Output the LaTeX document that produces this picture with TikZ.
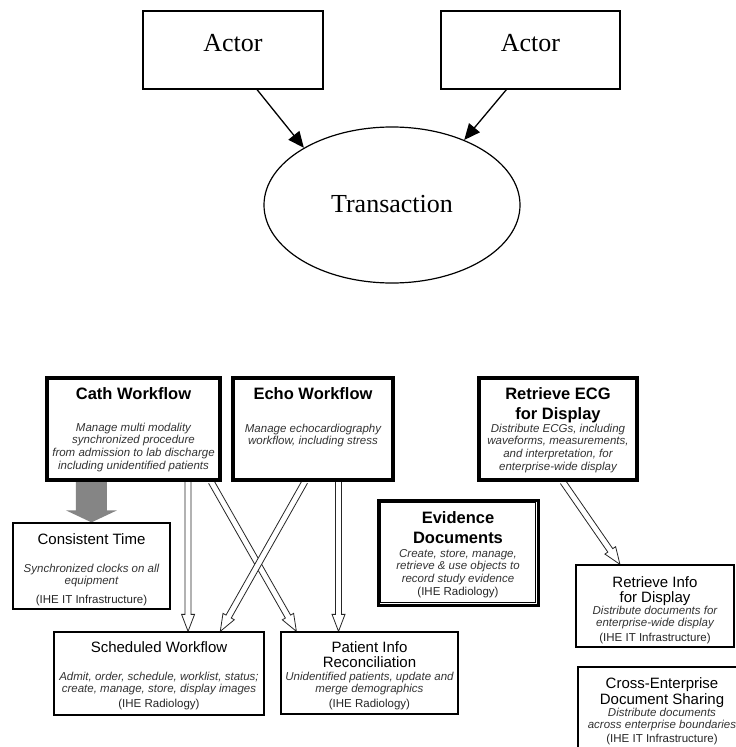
\documentclass[tikz,border=0pt]{standalone}
\usepackage{fontspec}
\setmainfont{Liberation Serif}
\newfontfamily\arialfont{Liberation Sans}
\usetikzlibrary{calc,arrows.meta,shapes.geometric,backgrounds}

% hollow double-lined arrow from coordinate #1 to coordinate #2
\newcommand\hollowarrow[2]{%
  \coordinate (hbase) at ($(#2)!17pt!(#1)$);
  \filldraw[hollowlink]
    ($(#1)!3pt!90:(#2)$) -- ($(hbase)!3pt!90:(#2)$) -- ($(hbase)!6.5pt!90:(#2)$)
    -- (#2) -- ($(hbase)!6.5pt!-90:(#2)$) -- ($(hbase)!3pt!-90:(#2)$)
    -- ($(#1)!3pt!-90:(#2)$);
}

\begin{document}
\begin{tikzpicture}[x=1pt,y=-1pt,
  actorbox/.style={draw, line width=1.4pt, inner sep=0pt},
  thickbox/.style={draw, line width=3.6pt, fill=white, inner sep=0pt},
  thinbox/.style={draw, line width=1.3pt, fill=white, inner sep=0pt},
  serif/.style={font=\fontsize{26}{30}\selectfont, inner sep=0pt},
  titlebf/.style={font=\arialfont\bfseries\fontsize{16.5}{20}\selectfont, align=center, inner sep=0pt},
  titlerg/.style={font=\arialfont\fontsize{15}{15}\selectfont, align=center, inner sep=0pt},
  desc/.style={font=\arialfont\itshape\fontsize{11.5}{12.8}\selectfont, text=black!80, align=center, inner sep=0pt},
  src/.style={font=\arialfont\fontsize{11.5}{13}\selectfont, text=black!85, inner sep=0pt},
  link/.style={-{Triangle[length=16pt,width=14pt]}, line width=1.3pt},
  hollowlink/.style={fill=white, draw=black!85, line width=0.8pt, line join=miter},
  fatlink/.style={fill=black!48},
]
\useasboundingbox (0,0) rectangle (736,747);

% ---------- actor / transaction legend ----------
\node[actorbox, minimum width=180pt, minimum height=78pt] (actor1) at (233,50) {};
\node[actorbox, minimum width=179pt, minimum height=78pt] (actor2) at (530.5,50) {};
\node[serif, anchor=base] (actor1t) at (233,51) {Actor};
\node[serif, anchor=base] (actor2t) at (530.5,51) {Actor};
\node[draw, ellipse, line width=1.2pt, minimum width=256pt, minimum height=156pt] (trans) at (392,205) {};
\node[serif, anchor=base] (transt) at (392,212) {Transaction};

\draw[link] ($(actor1.south west)!0.633!(actor1.south east)$) -- (trans.147);
\draw[link] ($(actor2.south west)!0.366!(actor2.south east)$) -- (trans.42);

% ---------- profile boxes ----------
\node[thickbox, minimum width=173pt, minimum height=102pt] (cath) at (133.5,429) {};
\node[thickbox, minimum width=160pt, minimum height=102pt] (echo) at (313,429) {};
\node[thickbox, minimum width=158pt, minimum height=102pt] (ecg) at (558,429) {};
\node[thinbox, minimum width=157pt, minimum height=86pt] (consistent) at (91.5,566) {};
\node[thinbox, minimum width=210pt, minimum height=83pt] (sched) at (159,673.5) {};
\node[thinbox, minimum width=177pt, minimum height=82pt] (patient) at (369.5,673) {};
\node[thinbox, line width=3pt, minimum width=160pt, minimum height=105pt] (evidence) at (458,552.5) {};
\draw[line width=0.8pt] ([shift={(4pt,-4pt)}]evidence.north west) rectangle ([shift={(-4pt,4pt)}]evidence.south east);
\node[thinbox, minimum width=158pt, minimum height=82pt] (retrinfo) at (655,606) {};
\node[thinbox, minimum width=170pt, minimum height=93pt] (xds) at (663,713.5) {};

% ---------- texts (a multi-line node sits on the baseline of its last line) ----------
\node[titlebf, anchor=base] (catht) at (133.5,399) {Cath Workflow};
\node[desc, anchor=base] (cathd) at (133.5,469.4) {Manage multi modality\\synchronized procedure\\from admission to lab discharge\\including unidentified patients};

\node[titlebf, anchor=base] (echot) at (313,399) {Echo Workflow};
\node[desc, anchor=base] (echod) at (313,444.8) {Manage echocardiography\\workflow, including stress};

\node[titlebf, anchor=base] (ecgt) at (558,419) {Retrieve ECG\\for Display};
\node[desc, anchor=base] (ecgd) at (558,470.4) {Distribute ECGs, including\\waveforms, measurements,\\and interpretation, for\\enterprise-wide display};

\node[titlerg, anchor=base] (consistentt) at (91.5,544) {Consistent Time};
\node[desc, anchor=base] (consistentd) at (91.5,584.8) {Synchronized clocks on all\\equipment};
\node[src, anchor=base] (consistents) at (91.5,603) {(IHE IT Infrastructure)};

\node[titlerg, anchor=base] (schedt) at (159,652) {Scheduled Workflow};
\node[desc, anchor=base] (schedd) at (159,692.8) {Admit, order, schedule, worklist, status;\\create, manage, store, display images};
\node[src, anchor=base] (scheds) at (159,707) {(IHE Radiology)};

\node[titlerg, anchor=base] (patientt) at (369.5,667) {Patient Info\\Reconciliation};
\node[desc, anchor=base] (patientd) at (369.5,692.8) {Unidentified patients, update and\\merge demographics};
\node[src, anchor=base] (patients) at (369.5,707) {(IHE Radiology)};

\node[titlebf, anchor=base] (evidencet) at (458,543) {Evidence\\Documents};
\node[desc, anchor=base] (evidenced) at (458,582.6) {Create, store, manage,\\retrieve \& use objects to\\record study evidence};
\node[src, anchor=base] (evidences) at (458,595) {(IHE Radiology)};

\node[titlerg, anchor=base] (retrinfot) at (655,602) {Retrieve Info\\for Display};
\node[desc, anchor=base] (retrinfod) at (655,626.8) {Distribute documents for\\enterprise-wide display};
\node[src, anchor=base] (retrinfos) at (655,641) {(IHE IT Infrastructure)};

\node[titlerg, font=\arialfont\fontsize{15}{16}\selectfont, anchor=base] (xdst) at (662,704) {Cross-Enterprise\\Document Sharing};
\node[desc, anchor=base] (xdsd) at (662,728.8) {Distribute documents\\across enterprise boundaries};
\node[src, anchor=base] (xdss) at (662,742) {(IHE IT Infrastructure)};

% ---------- connectors (behind the boxes) ----------
\coordinate (a1s) at ($(cath.south west)!0.809!(cath.south east)$);
\coordinate (a1e) at (a1s |- sched.north);
\coordinate (a2s) at ($(cath.south west)!0.94!(cath.south east)$);
\coordinate (a2e) at ($(patient.north west)!0.09!(patient.north east)$);
\coordinate (a3s) at ($(echo.south west)!0.45!(echo.south east)$);
\coordinate (a3e) at ($(sched.north west)!0.79!(sched.north east)$);
\coordinate (a4s) at ($(echo.south west)!0.656!(echo.south east)$);
\coordinate (a4e) at (a4s |- patient.north);
\coordinate (a5s) at ($(ecg.south west)!0.53!(ecg.south east)$);
\coordinate (a5e) at ($(retrinfo.north west)!0.28!(retrinfo.north east)$);
\coordinate (gs) at ($(cath.south west)!0.262!(cath.south east)$);
\coordinate (ge) at (gs |- consistent.north);

\begin{scope}[on background layer]
  \fill[white] (0,0) rectangle (736,747);
  \hollowarrow{a1s}{a1e}
  \hollowarrow{a4s}{a4e}
  \hollowarrow{a2s}{a2e}
  \hollowarrow{a3s}{a3e}
  \hollowarrow{a5s}{a5e}
  \fill[fatlink] ([xshift=-15.5pt]gs) -- ([shift={(-15.5pt,12pt)}]ge) -- ([shift={(-25.5pt,12pt)}]ge)
    -- (ge) -- ([shift={(25.5pt,12pt)}]ge) -- ([shift={(15.5pt,12pt)}]ge) -- ([xshift=15.5pt]gs) -- cycle;
\end{scope}
\end{tikzpicture}
\end{document}
